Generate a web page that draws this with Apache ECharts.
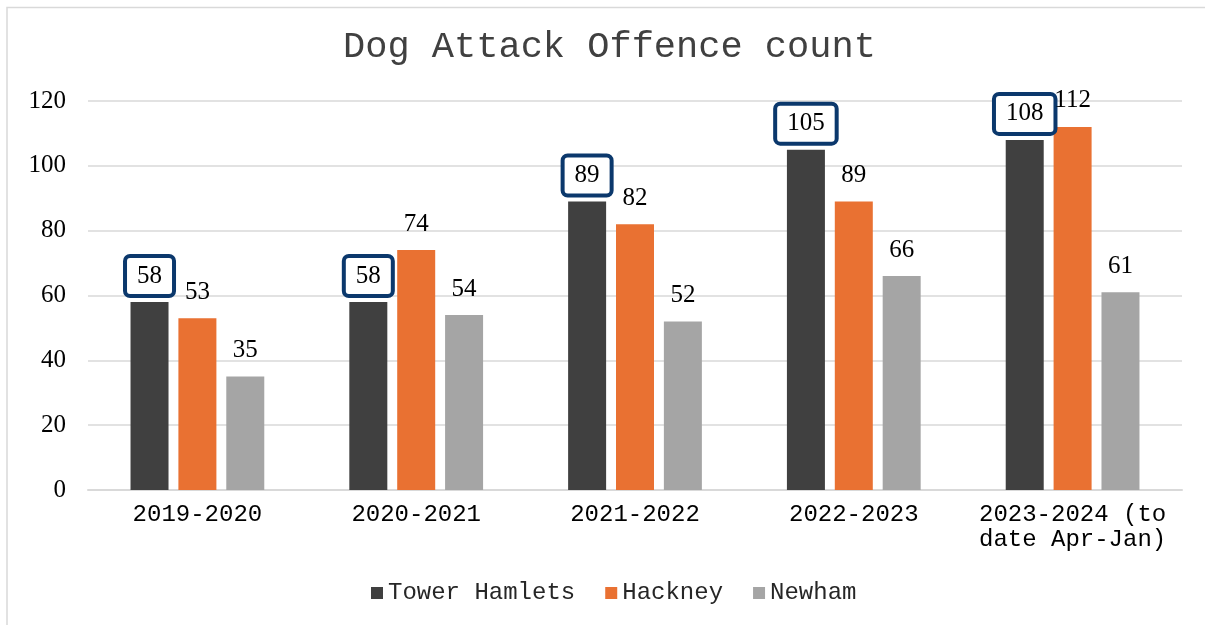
<!DOCTYPE html>
<html>
<head>
<meta charset="utf-8">
<script src="https://cdn.jsdelivr.net/npm/echarts@6/dist/echarts.min.js"></script>
<style>html,body{margin:0;padding:0;background:#fff}#c{width:1205px;height:625px}</style>
</head>
<body>
<div id="c"></div>
<script>
var categories = ['2019-2020', '2020-2021', '2021-2022', '2022-2023', '2023-2024 (to\ndate Apr-Jan)'];
var towerHamlets = [58, 58, 89, 105, 108];
var hackney = [53, 74, 82, 89, 112];
var newham = [35, 54, 52, 66, 61];
var yTicks = { min: 0, max: 120, interval: 20 };

var chart = echarts.init(document.getElementById('c'), null, { renderer: 'canvas' });
var serif = 'Liberation Serif, Times New Roman, serif';
var mono = 'Liberation Mono, Courier New, monospace';
var plainLabel = {
  show: true, position: 'top', distance: 13,
  fontFamily: serif, fontSize: 25, lineHeight: 26, color: '#000'
};
chart.setOption({
  animation: false,
  graphic: [{
    type: 'rect', shape: { x: 7, y: 7.5, width: 1400, height: 800 },
    style: { fill: 'none', stroke: '#d9d9d9', lineWidth: 1.5 }, silent: true
  }],
  title: {
    text: 'Dog Attack Offence count', left: 338, top: 24,
    textStyle: { fontFamily: mono, fontSize: 37, fontWeight: 'normal', color: '#404040' }
  },
  legend: {
    bottom: 15, left: 366, itemWidth: 12, itemHeight: 12, itemGap: 30,
    icon: 'rect',
    textStyle: { fontFamily: mono, fontSize: 24, color: '#262626' },
    data: ['Tower Hamlets', 'Hackney', 'Newham']
  },
  grid: { left: 88, right: 23, top: 101, bottom: 135 },
  xAxis: {
    type: 'category', data: categories,
    axisLine: { lineStyle: { color: '#d9d9d9', width: 2 } },
    axisTick: { show: false },
    axisLabel: { interval: 0, margin: 12, fontFamily: mono, fontSize: 24, lineHeight: 25, color: '#000' }
  },
  yAxis: {
    type: 'value', min: yTicks.min, max: yTicks.max, interval: yTicks.interval,
    axisLine: { show: false }, axisTick: { show: false },
    splitLine: { lineStyle: { color: '#d9d9d9', width: 1.5 } },
    axisLabel: { margin: 22, fontFamily: serif, fontSize: 25, color: '#000' }
  },
  series: [
    {
      name: 'Tower Hamlets', type: 'bar', data: towerHamlets, barWidth: 38, barGap: '26%',
      itemStyle: { color: '#404040' },
      label: {
        show: true, position: 'top', distance: 8,
        fontFamily: serif, fontSize: 25, lineHeight: 26, color: '#000',
        backgroundColor: '#fff', borderColor: '#0b386c', borderWidth: 4, borderRadius: 3,
        padding: [5, 10, 5, 10]
      }
    },
    {
      name: 'Hackney', type: 'bar', data: hackney, barWidth: 38, barGap: '26%',
      itemStyle: { color: '#e97132' }, label: plainLabel
    },
    {
      name: 'Newham', type: 'bar', data: newham, barWidth: 38, barGap: '26%',
      itemStyle: { color: '#a5a5a5' }, label: plainLabel
    }
  ]
});
</script>
</body>
</html>
